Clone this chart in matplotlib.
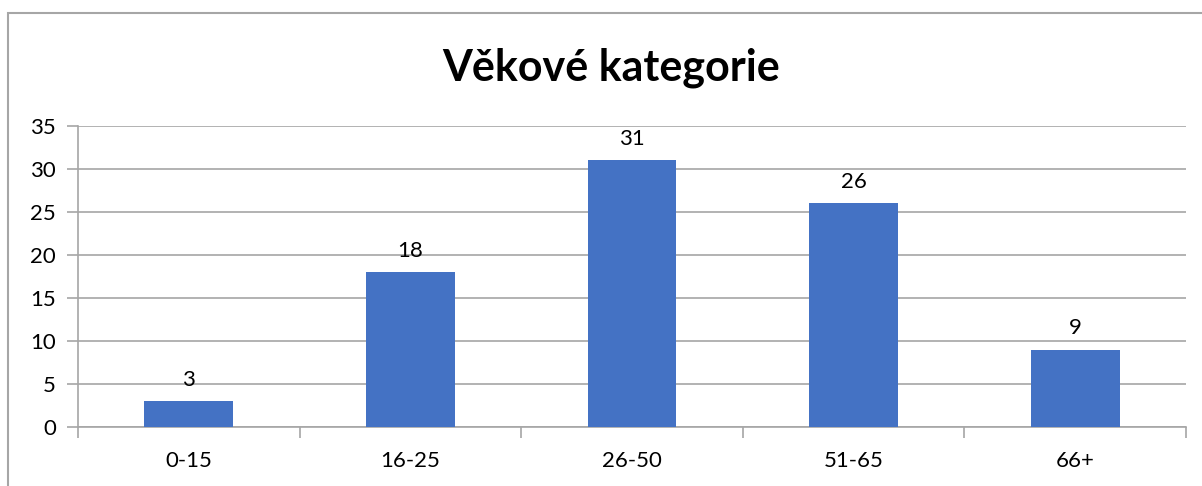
import matplotlib.pyplot as plt
from matplotlib.patches import Rectangle
import numpy as np

categories = ["0-15", "16-25", "26-50", "51-65", "66+"]
values = [3, 18, 31, 26, 9]
title = "Věkové kategorie"

plt.rcParams['font.family'] = ['Lato', 'DejaVu Sans']

fig = plt.figure(figsize=(12.02, 4.86), dpi=100)
ax = fig.add_axes([78 / 1202, 1 - 427 / 486, (1186 - 78) / 1202, (427 - 126) / 486])

# outer chart frame (cut by the image edge on the right and bottom)
fig.patches.append(Rectangle((8 / 1202, -0.1), 1.2, 1.1 - 13 / 486,
                             transform=fig.transFigure, fill=False,
                             edgecolor='#a6a6a6', linewidth=1.5))

x = np.arange(len(categories))
bars = ax.bar(x, values, width=0.4, color='#4472c4', zorder=3)
for b, v in zip(bars, values):
    ax.text(b.get_x() + b.get_width() / 2, v + 1.3, str(v),
            ha='center', va='bottom', fontsize=16)

ax.set_xlim(-0.5, len(categories) - 0.5)
ax.set_ylim(0, 35)
ax.set_yticks(range(0, 36, 5))
ax.yaxis.grid(True, color='#a6a6a6', linewidth=1.2, zorder=0)

ax.set_xticks(x)
ax.set_xticklabels(categories, fontsize=16)
ax.set_xticks(np.arange(-0.5, len(categories)), minor=True)
ax.tick_params(axis='x', which='major', length=0, pad=17)
ax.tick_params(axis='x', which='minor', length=8, color='#a6a6a6', width=1.2)
ax.tick_params(axis='y', length=8, color='#a6a6a6', width=1.2, labelsize=16, pad=8)

for side in ['top', 'right']:
    ax.spines[side].set_visible(False)
for side in ['left', 'bottom']:
    ax.spines[side].set_color('#a6a6a6')
    ax.spines[side].set_linewidth(1.2)

fig.text(611 / 1202, 1 - 68 / 486, title, ha='center', va='center',
         fontsize=31, fontweight='bold')

fig.savefig('out.png', dpi=100)
